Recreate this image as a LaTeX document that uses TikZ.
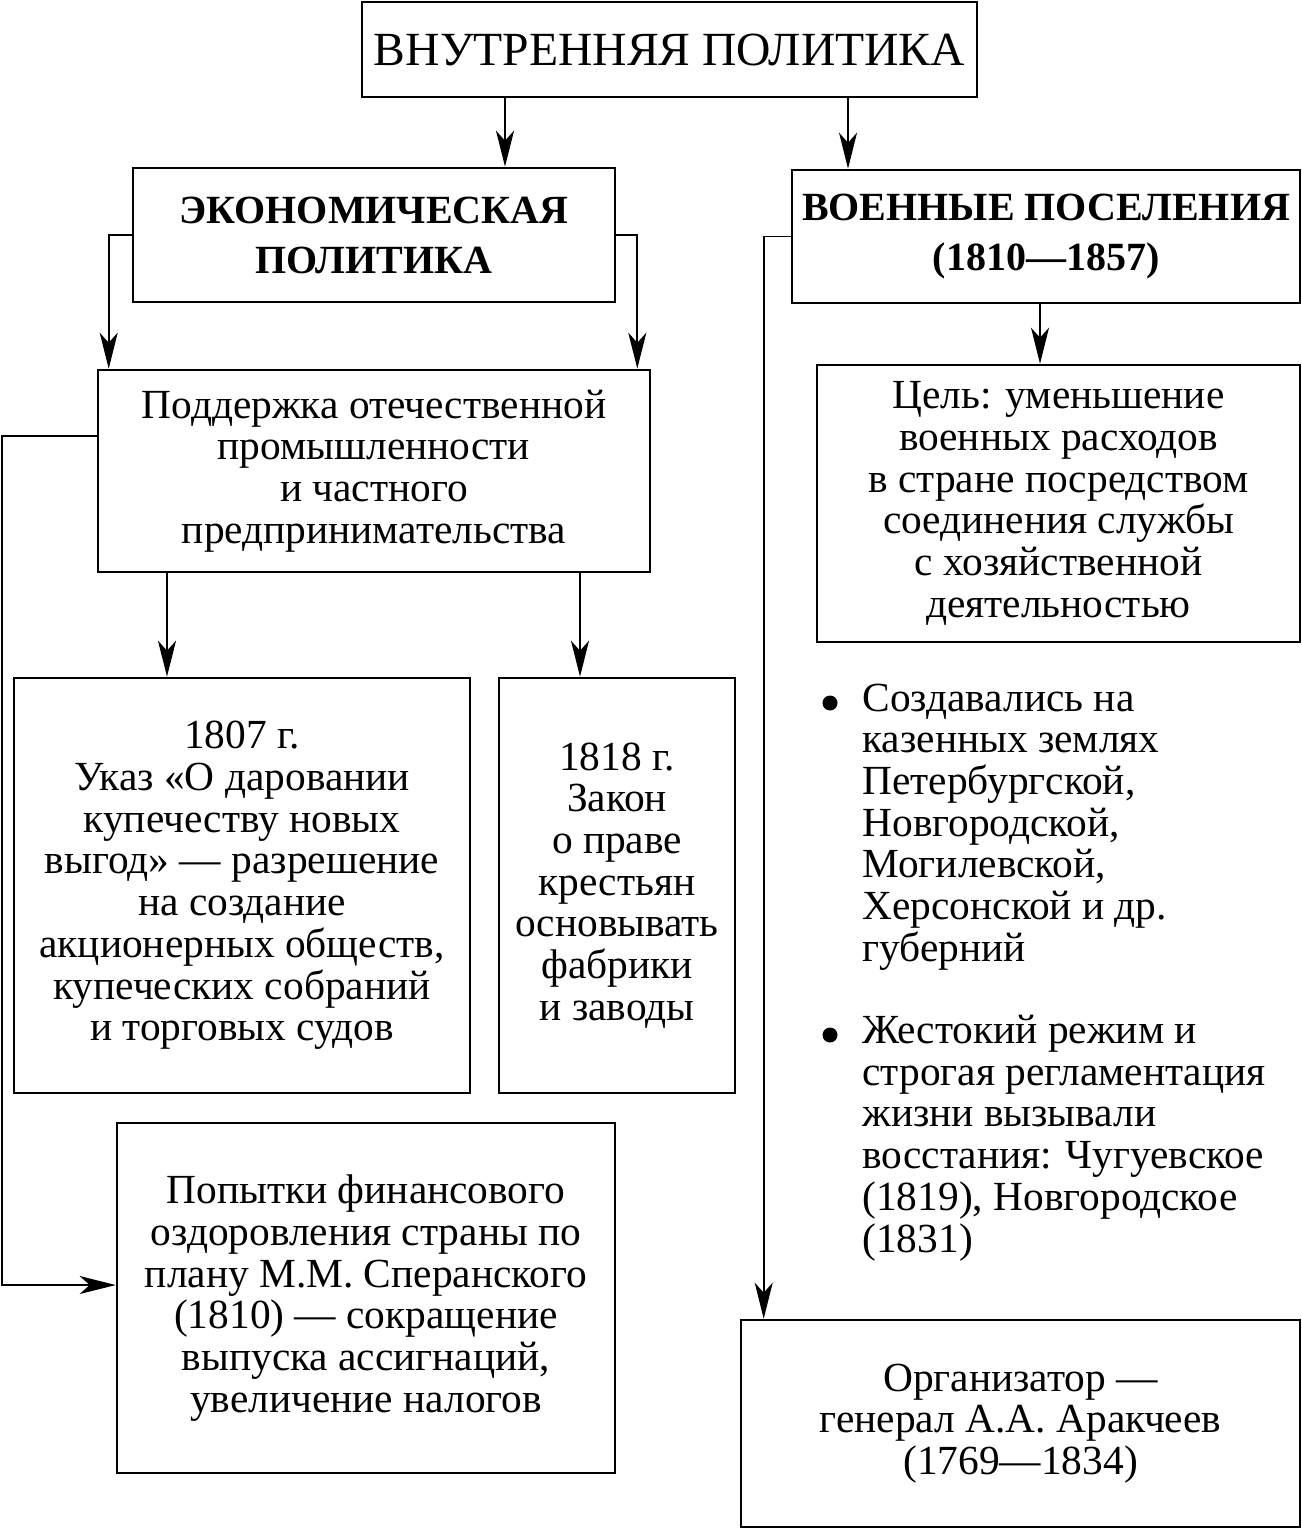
\documentclass[tikz,border=0pt]{standalone}
\usepackage{fontspec}
\setmainfont{Liberation Serif}
\usetikzlibrary{arrows.meta,calc}
\begin{document}
\begin{tikzpicture}[x=0.5pt,y=-0.5pt,
  box/.style={draw,line width=1.3pt,inner sep=0pt,align=center,
    font=\fontsize{20.7}{20.85}\selectfont},
  head/.style={box,font=\fontsize{20}{25}\selectfont\bfseries},
  arr/.style={line width=0.9pt,-{Stealth[length=18pt,width=9pt,inset=5pt]}},
  txt/.style={inner sep=0pt,align=left,font=\fontsize{20.7}{20.85}\selectfont}]
\useasboundingbox (0,0) rectangle (1301,1529);
\node[box,font=\fontsize{23.8}{27}\selectfont,minimum width=307.5pt,minimum height=47.5pt] (top) at (669.5,49.5) {ВНУТРЕННЯЯ ПОЛИТИКА};
\node[head,minimum width=241pt,minimum height=67pt] (econ) at (374,235) {ЭКОНОМИЧЕСКАЯ\\ПОЛИТИКА};
\node[head,minimum width=254pt,minimum height=66.5pt] (voen) at (1046,236.5) {ВОЕННЫЕ ПОСЕЛЕНИЯ\\(1810—1857)};
\node[box,minimum width=276pt,minimum height=101pt] (podd) at (374,471) {Поддержка отечественной\\промышленности\\и частного\\предпринимательства};
\node[box,minimum width=228pt,minimum height=207.5pt] (b1807) at (242,885.5) {1807 г.\\Указ «О даровании\\купечеству новых\\выгод» — разрешение\\на создание\\акционерных обществ,\\купеческих собраний\\и торговых судов};
\node[box,minimum width=118pt,minimum height=207.5pt] (b1818) at (617,885.5) {1818 г.\\Закон\\о праве\\крестьян\\основывать\\фабрики\\и заводы};
\node[box,minimum width=249pt,minimum height=175pt] (popyt) at (366,1298) {Попытки финансового\\оздоровления страны по\\плану М.М. Сперанского\\(1810) — сокращение\\выпуска ассигнаций,\\увеличение налогов};
\node[box,minimum width=241.5pt,minimum height=138.5pt] (cel) at (1058.5,503.5) {Цель: уменьшение\\военных расходов\\в стране посредством\\соединения службы\\с хозяйственной\\деятельностью};
\node[box,minimum width=279.5pt,minimum height=103.5pt] (org) at (1020.5,1423.5) {Организатор —\\генерал А.А. Аракчеев\\(1769—1834)};
\node[txt,anchor=west] (list1) at (862,827) {Создавались на\\казенных землях\\Петербургской,\\Новгородской,\\Могилевской,\\Херсонской и др.\\губерний};
\node[txt,anchor=west] (list2) at (862,1138) {Жестокий режим и\\строгая регламентация\\жизни вызывали\\восстания: Чугуевское\\(1819), Новгородское\\(1831)};
\fill (830,703) circle[radius=7.5];
\fill (830,1035) circle[radius=7.5];
\coordinate (xa) at (505,0);
\coordinate (xb) at (848,0);
\coordinate (xc) at (1040,0);
\coordinate (xd) at (167,0);
\coordinate (xe) at (580,0);
\draw[arr] (top.south -| xa) -- (econ.north -| xa);
\draw[arr] (top.south -| xb) -- (voen.north -| xb);
\draw[arr] (voen.south -| xc) -- (cel.north -| xc);
\draw[arr] (podd.south -| xd) -- (b1807.north -| xd);
\draw[arr] (podd.south -| xe) -- (b1818.north -| xe);
\draw[arr] (econ.west) -| ($(podd.north west)+(12,0)$);
\draw[arr] (econ.east) -| ($(podd.north east)+(-14,0)$);
\draw[arr] (voen.west) -| ($(org.north west)+(24,0)$);
\draw[arr] ($(podd.north west)+(0,67)$) -| (2,1285) -- ($(popyt.west)+(0,-13)$);
\end{tikzpicture}
\end{document}
